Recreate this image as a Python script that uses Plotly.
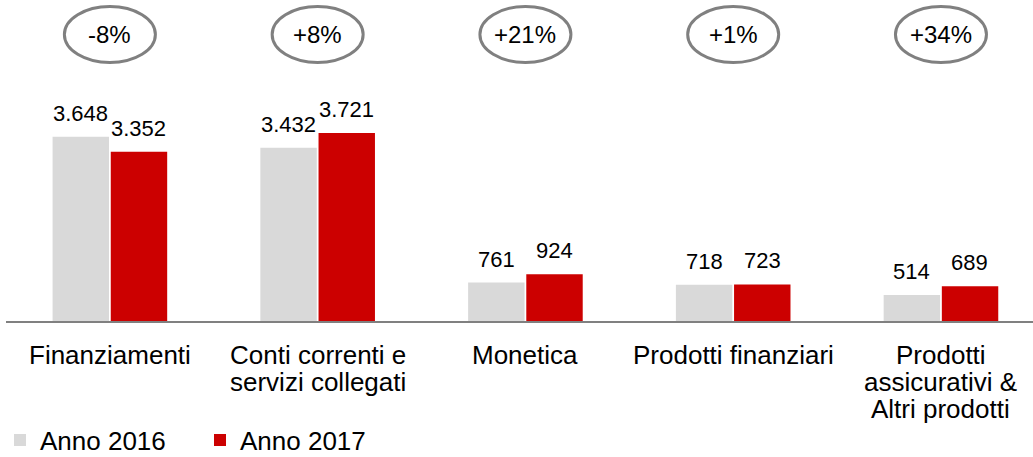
import plotly.graph_objects as go

categories = [
    "Finanziamenti",
    "Conti correnti e<br>servizi collegati",
    "Monetica",
    "Prodotti finanziari",
    "Prodotti<br>assicurativi &<br>Altri prodotti",
]
anno_2016 = [3648, 3432, 761, 718, 514]
anno_2017 = [3352, 3721, 924, 723, 689]

GRAY = "#D9D9D9"
RED = "#CC0000"
FONT = "Liberation Sans, Arial, sans-serif"

fig = go.Figure()
fig.add_trace(go.Bar(x=categories, y=anno_2016, name="Anno 2016",
                     marker=dict(color=GRAY, line=dict(width=0))))
fig.add_trace(go.Bar(x=categories, y=anno_2017, name="Anno 2017",
                     marker=dict(color=RED, line=dict(width=0))))

# value labels above bars (left bar / right bar of each group)
for i, (a, b) in enumerate(zip(anno_2016, anno_2017)):
    for val, dx in ((a, -29), (b, 29)):
        fig.add_annotation(
            x=i, y=val, xref="x", yref="y", text=f"{val:,}".replace(",", "."),
            showarrow=False, xshift=dx, yshift=9, yanchor="bottom",
            font=dict(size=22, color="black", family=FONT),
        )

# variation bubbles above each group
for i, (a, b) in enumerate(zip(anno_2016, anno_2017)):
    pct = round((b / a - 1) * 100)
    fig.add_shape(
        type="circle", xref="x", yref="paper",
        x0=i - 0.219, x1=i + 0.219, y0=1.119, y1=1.3615,
        line=dict(color="#808080", width=3),
    )
    fig.add_annotation(
        x=i, y=1.24, xref="x", yref="paper", text=f"{pct:+d}%",
        showarrow=False, yanchor="middle",
        font=dict(size=24, color="black", family=FONT),
    )

# category labels, one line at a time for tighter line spacing
for i, cat in enumerate(categories):
    for k, line in enumerate(cat.split("<br>")):
        fig.add_annotation(
            x=i, y=0, xref="x", yref="paper", text=line, showarrow=False,
            yanchor="middle", yshift=-34 - 27 * k,
            font=dict(size=26, color="black", family=FONT),
        )

fig.update_layout(
    width=1033, height=457,
    margin=dict(l=6, r=0, t=90, b=136, autoexpand=False),
    paper_bgcolor="white", plot_bgcolor="white",
    barmode="group", bargap=0.44, bargroupgap=0.03,
    font=dict(family=FONT, size=26, color="black"),
    showlegend=True,
    legend=dict(
        orientation="h", xref="container", yref="container",
        x=-0.007, xanchor="left", y=0.037, yanchor="middle",
        font=dict(size=26), entrywidth=155, entrywidthmode="pixels",
        bgcolor="rgba(0,0,0,0)",
    ),
    xaxis=dict(
        range=[-0.5, 4.443], showgrid=False, showline=True,
        linecolor="#808080", linewidth=1.5, showticklabels=False,
        automargin=False,
    ),
    yaxis=dict(range=[0, 4574], visible=False, automargin=False),
)

fig.write_html("out.html", config={"displayModeBar": False},
               post_script="document.body.style.margin='0';")
